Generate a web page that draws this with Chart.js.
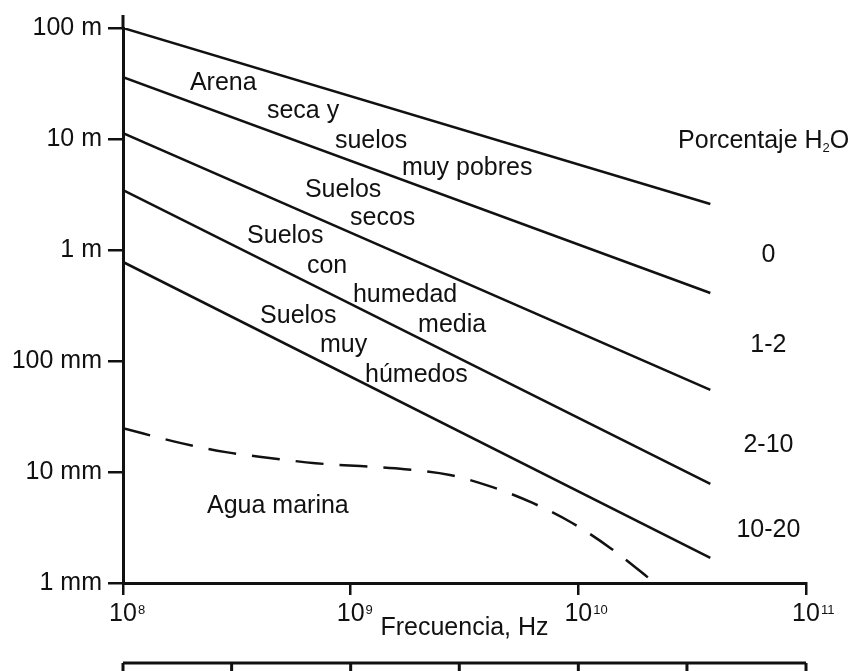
<!DOCTYPE html>
<html lang="es">
<head>
<meta charset="utf-8">
<title>Porcentaje H2O - Frecuencia</title>
<script src="https://cdn.jsdelivr.net/npm/chart.js@4.4.1/dist/chart.umd.min.js"></script>
<style>
  html, body { margin: 0; padding: 0; background: #fff; }
  #chart { display: block; }
</style>
</head>
<body>
<canvas id="chart" width="861" height="671"></canvas>
<script>
// Données (fréquence en Hz, profondeur en m)
const lineFreqs = [1e8, 3.8e10];
const lineA = [100, 2.6];
const lineB = [36, 0.41];
const lineC = [11.3, 0.055];
const lineD = [3.47, 0.0078];
const lineE = [0.78, 0.00168];

// Agua marina (courbe en tirets)
const marinaFreqs = [1e8, 1.8e8, 2.83e8, 4.4e8, 7e8, 1.1e9, 1.73e9, 2.73e9, 4.2e9, 6.3e9, 9.4e9, 1.38e10, 2.17e10];
const marinaDepth = [0.0248, 0.0182, 0.0151, 0.0134, 0.012, 0.0113, 0.0106, 0.0094, 0.0073, 0.00526, 0.00347, 0.00207, 0.001];

// Graduations
const yTicks = [0.001, 0.01, 0.1, 1, 10, 100];
const yTickLabels = ['1 mm', '10 mm', '100 mm', '1 m', '10 m', '100 m'];
const xTicks = [1e8, 1e9, 1e10, 1e11];
const xTickExps = ['8', '9', '10', '11'];
const bandEdges = [1e8, 3e8, 1e9, 3e9, 1e10, 3e10, 1e11];

// Textes des zones : [texte, log10(f), log10(profondeur)] (ligne de base, à gauche)
const zoneTexts = [
  ['Arena', 8.294, 1.441],
  ['seca y', 8.632, 1.189],
  ['suelos', 8.931, 0.919],
  ['muy pobres', 9.225, 0.676],
  ['Suelos', 8.799, 0.477],
  ['secos', 8.997, 0.225],
  ['Suelos', 8.545, 0.063],
  ['con', 8.808, -0.207],
  ['humedad', 9.010, -0.468],
  ['media', 9.296, -0.739],
  ['Suelos', 8.602, -0.658],
  ['muy', 8.865, -0.919],
  ['húmedos', 9.063, -1.189],
  ['Agua marina', 8.369, -2.369]
];

// Pourcentages d'eau à droite (centrés)
const waterLabels = ['0', '1-2', '2-10', '10-20'];
const waterPos = [-0.108, -0.919, -1.820, -2.586];
const waterLogF = 10.835;

const ink = '#111';
const fontFamily = '"Liberation Sans", Arial, Helvetica, sans-serif';

function toPoints(xs, ys) {
  return xs.map((f, i) => ({ x: f, y: ys[i] }));
}

function solidLine(vals) {
  return {
    data: toPoints(lineFreqs, vals),
    borderColor: ink,
    borderWidth: 2.5,
    pointRadius: 0,
    fill: false
  };
}

// Plugin pour les textes, les exposants, l'axe prolongé et la bande du bas
const dessinExtras = {
  id: 'dessinExtras',
  afterDraw(chart) {
    const { ctx, chartArea, scales: { x, y } } = chart;
    ctx.save();
    ctx.fillStyle = ink;
    ctx.strokeStyle = ink;
    ctx.font = '25px ' + fontFamily;
    ctx.textBaseline = 'alphabetic';

    ctx.textAlign = 'left';
    zoneTexts.forEach(([txt, lf, lv]) => {
      ctx.fillText(txt, x.getPixelForValue(10 ** lf), y.getPixelForValue(10 ** lv));
    });

    ctx.textAlign = 'center';
    waterLabels.forEach((txt, i) => {
      ctx.fillText(txt, x.getPixelForValue(10 ** waterLogF), y.getPixelForValue(10 ** waterPos[i]));
    });

    // Porcentaje H2O avec indice
    let px = x.getPixelForValue(10 ** 10.438);
    const py = y.getPixelForValue(10 ** 0.919);
    ctx.textAlign = 'left';
    ctx.fillText('Porcentaje H', px, py);
    px += ctx.measureText('Porcentaje H').width;
    ctx.font = '13px ' + fontFamily;
    ctx.fillText('2', px, py + 4);
    px += ctx.measureText('2').width;
    ctx.font = '25px ' + fontFamily;
    ctx.fillText('O', px, py);

    // Exposants des graduations 10^n
    const half = ctx.measureText('10').width / 2;
    ctx.font = '13px ' + fontFamily;
    ctx.textBaseline = 'top';
    xTicks.forEach((f, i) => {
      ctx.fillText(xTickExps[i], x.getPixelForValue(f) + half + 1, chartArea.bottom + 21);
    });

    // Prolongement de l'axe vertical vers le haut
    ctx.lineWidth = 3;
    ctx.beginPath();
    ctx.moveTo(chartArea.left, chartArea.top);
    ctx.lineTo(chartArea.left, chartArea.top - 13);
    ctx.stroke();

    // Bande de cases en bas
    const bandY = chartArea.bottom + 80;
    ctx.beginPath();
    ctx.moveTo(x.getPixelForValue(bandEdges[0]), bandY);
    ctx.lineTo(x.getPixelForValue(bandEdges[bandEdges.length - 1]), bandY);
    bandEdges.forEach(f => {
      const bx = x.getPixelForValue(f);
      ctx.moveTo(bx, bandY);
      ctx.lineTo(bx, chart.height);
    });
    ctx.stroke();
    ctx.restore();
  }
};

const tickFont = { family: fontFamily, size: 25 };

new Chart(document.getElementById('chart').getContext('2d'), {
  type: 'line',
  data: {
    datasets: [
      solidLine(lineA),
      solidLine(lineB),
      solidLine(lineC),
      solidLine(lineD),
      solidLine(lineE),
      {
        data: toPoints(marinaFreqs, marinaDepth),
        borderColor: ink,
        borderWidth: 2.5,
        borderDash: [28, 16],
        pointRadius: 0,
        cubicInterpolationMode: 'monotone',
        fill: false
      }
    ]
  },
  options: {
    responsive: false,
    animation: false,
    layout: { padding: { top: 28, right: 55, bottom: 0, left: 0 } },
    plugins: {
      legend: { display: false },
      tooltip: { enabled: false }
    },
    scales: {
      x: {
        type: 'logarithmic',
        min: 1e8,
        max: 1e11,
        afterBuildTicks: s => { s.ticks = xTicks.map(v => ({ value: v })); },
        afterFit: s => { s.height = 88; },
        grid: { drawOnChartArea: false, tickLength: 12, color: ink, lineWidth: 2.5 },
        border: { color: ink, width: 3 },
        ticks: {
          color: ink,
          font: tickFont,
          padding: 4,
          maxRotation: 0,
          autoSkip: false,
          callback: () => '10'
        },
        title: {
          display: true,
          text: 'Frecuencia, Hz',
          color: ink,
          font: tickFont,
          padding: { top: 0, bottom: 28 }
        }
      },
      y: {
        type: 'logarithmic',
        min: 0.001,
        max: 100,
        afterBuildTicks: s => { s.ticks = yTicks.map(v => ({ value: v })); },
        afterFit: s => { s.width = 123; },
        grid: { drawOnChartArea: false, tickLength: 15, color: ink, lineWidth: 2.5 },
        border: { color: ink, width: 3 },
        ticks: {
          color: ink,
          font: tickFont,
          padding: 6,
          autoSkip: false,
          callback: (v, i) => yTickLabels[i]
        }
      }
    }
  },
  plugins: [dessinExtras]
});
</script>
</body>
</html>
